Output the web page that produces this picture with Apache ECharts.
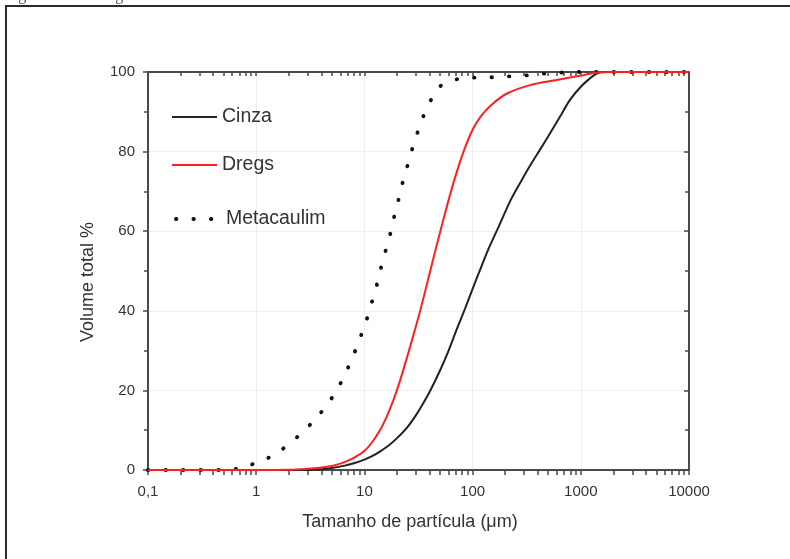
<!DOCTYPE html>
<html>
<head>
<meta charset="utf-8">
<script src="https://cdn.jsdelivr.net/npm/echarts@6/dist/echarts.min.js"></script>
<style>
html,body{margin:0;padding:0;background:#fff;}
#c{width:790px;height:559px;}
</style>
</head>
<body>
<div id="c"></div>
<script>
// ---- data ----
const seriesNames = ['Cinza', 'Dregs', 'Metacaulim'];

const cinzaX = [0.1, 1, 3, 4, 5, 6.6, 8, 10, 12, 14, 17, 20, 25, 30, 35, 40, 50, 60, 71, 85, 100, 120, 140, 170, 222, 280, 340, 420, 520, 650, 794, 1000, 1216, 1450, 1700, 10000];
const cinzaY = [0, 0, 0, 0.2, 0.5, 1.1, 1.7, 2.6, 3.6, 4.7, 6.3, 8.0, 10.8, 13.8, 16.8, 19.6, 25, 30, 35.2, 40.5, 45.5, 51, 55.5, 60.5, 67.5, 72.5, 76.5, 80.5, 84.6, 89, 93, 96.3, 98.4, 99.8, 100, 100];

const dregsX = [0.1, 1, 2, 3, 4, 5, 6, 7.4, 8.5, 10, 11.5, 13.8, 16, 18.5, 21.2, 25.7, 32.4, 38.5, 46.6, 55, 65, 80, 100, 120, 150, 208, 340, 600, 1050, 1400, 2000, 10000];
const dregsY = [0, 0, 0.05, 0.3, 0.6, 1.0, 1.6, 2.6, 3.5, 4.8, 6.6, 9.8, 13.3, 17.5, 22.2, 29.8, 39.5, 47.5, 56.5, 64, 71.2, 79, 85.5, 89, 91.8, 94.6, 96.7, 98, 99.2, 99.9, 100, 100];

const metaX = [0.1, 0.5, 0.7, 0.82, 1.18, 1.68, 2.42, 3.42, 4.58, 5.78, 6.9, 8.07, 9.25, 10.5, 11.7, 13, 14.2, 15.6, 17.3, 18.8, 20.6, 22.4, 24.8, 27.5, 30.8, 35, 41.3, 48, 54.8, 78, 109, 158, 224, 327, 468, 700, 1000, 10000];
const metaY = [0, 0, 0.4, 1.0, 2.5, 4.9, 8.4, 12.4, 16.6, 20.9, 25.1, 29.4, 33.6, 37.8, 42.1, 46.4, 50.7, 54.8, 59.2, 63.5, 67.7, 71.9, 76.1, 80.4, 84.6, 88.8, 93, 95.8, 97.2, 98.4, 98.6, 98.7, 98.9, 99.2, 99.6, 99.9, 100, 100];

const xMajorTicks = [0.1, 1, 10, 100, 1000, 10000];
const xTickLabels = ['0,1', '1', '10', '100', '1000', '10000'];
const xMinorMultipliers = [2, 3, 4, 5, 6, 7, 8, 9];

const xTitle = 'Tamanho de partícula (μm)';
const yTitle = 'Volume total %';
const captionText = 'Figura 4 - Curva granulométrica dos materiais estudados';

// ---- build ----
function pairs(xs, ys) { return xs.map((x, i) => [x, ys[i]]); }
const allXTicks = [];
xMajorTicks.forEach((m, i) => {
  allXTicks.push(m);
  if (i < xMajorTicks.length - 1) xMinorMultipliers.forEach(k => allXTicks.push(+(m * k).toPrecision(6)));
});

const FONT = '"Liberation Sans", Arial, sans-serif';
const AX = '#4a4a4a';
const TXT = '#333';
const C_CINZA = '#222';
const C_DREGS = '#ff1f1f';
const C_META = '#111';
const metaDash = [0.5, 17];

const chart = echarts.init(document.getElementById('c'), null, {renderer: 'canvas'});

const baseX = {
  type: 'log', logBase: 10, min: 0.1, max: 10000,
  axisLine: {show: true, onZero: false, lineStyle: {color: AX, width: 2}},
  splitLine: {show: false},
  minorTick: {show: false}
};

const legendBase = {
  itemWidth: 45, itemHeight: 14, orient: 'vertical', selectedMode: false,
  itemStyle: {opacity: 0, borderWidth: 0},
  textStyle: {fontFamily: FONT, fontSize: 19.5, color: TXT, lineHeight: 22}
};

chart.setOption({
  animation: false,
  backgroundColor: '#fff',
  grid: {left: 148, right: 101, top: 72, bottom: 89, containLabel: false},
  graphic: [
    {type: 'rect', shape: {x: 6, y: 6, width: 820, height: 600}, style: {fill: 'none', stroke: '#2a2a2a', lineWidth: 2}, z: 100},
    {type: 'text', left: 5, top: -12, style: {text: captionText, font: '16px "Liberation Serif", serif', fill: '#555'}, z: 100}
  ],
  xAxis: [
    Object.assign({}, baseX, {
      position: 'bottom',
      name: xTitle, nameLocation: 'middle', nameGap: 43,
      nameTextStyle: {fontFamily: FONT, fontSize: 18, color: TXT, padding: [0, 17, 0, 0]},
      axisTick: {show: true, inside: false, length: 5, customValues: allXTicks, lineStyle: {color: AX, width: 1.5}},
      axisLabel: {show: true, margin: 14, fontFamily: FONT, fontSize: 15, color: TXT,
        customValues: xMajorTicks,
        formatter: v => { const i = xMajorTicks.findIndex(m => Math.abs(Math.log10(m) - Math.log10(v)) < 1e-6); return i >= 0 ? xTickLabels[i] : ''; }}
    }),
    Object.assign({}, baseX, {
      position: 'top',
      axisTick: {show: true, inside: true, length: 4, customValues: allXTicks, lineStyle: {color: AX, width: 1.5}},
      axisLabel: {show: false}
    }),
    Object.assign({}, baseX, {
      position: 'bottom', splitNumber: 5,
      axisLine: {show: false}, axisTick: {show: false}, axisLabel: {show: false},
      splitLine: {show: true, lineStyle: {color: '#efefef', width: 1}}
    })
  ],
  yAxis: [
    {
      type: 'value', min: 0, max: 100, interval: 20, position: 'left',
      name: yTitle, nameLocation: 'middle', nameGap: 51,
      nameTextStyle: {fontFamily: FONT, fontSize: 18, color: TXT, padding: [0, 22, 0, 0]},
      axisLine: {show: true, onZero: false, lineStyle: {color: AX, width: 2}},
      axisTick: {show: true, inside: false, length: 5, lineStyle: {color: AX, width: 1.5}},
      minorTick: {show: true, splitNumber: 2, length: 4, lineStyle: {color: AX, width: 1.5}},
      axisLabel: {margin: 13, fontFamily: FONT, fontSize: 15, color: TXT},
      splitLine: {show: true, lineStyle: {color: '#efefef', width: 1}}
    },
    {
      type: 'value', min: 0, max: 100, interval: 20, position: 'right',
      axisLine: {show: true, onZero: false, lineStyle: {color: AX, width: 2}},
      axisTick: {show: true, inside: true, length: 5, lineStyle: {color: AX, width: 1.5}},
      minorTick: {show: true, splitNumber: 2, length: 4, lineStyle: {color: AX, width: 1.5}},
      axisLabel: {show: false},
      splitLine: {show: false}
    }
  ],
  legend: [
    Object.assign({}, legendBase, {data: [seriesNames[0]], left: 166, top: 101}),
    Object.assign({}, legendBase, {data: [seriesNames[1]], left: 166, top: 149}),
    Object.assign({}, legendBase, {data: [seriesNames[2]], left: 169, top: 203,
      lineStyle: {width: 3.8, type: metaDash, cap: 'round', color: C_META}})
  ],
  series: [
    {name: seriesNames[0], type: 'line', data: pairs(cinzaX, cinzaY), smooth: 0.3,
      symbol: 'none', lineStyle: {color: C_CINZA, width: 2}, itemStyle: {color: C_CINZA}, z: 3},
    {name: seriesNames[1], type: 'line', data: pairs(dregsX, dregsY), smooth: 0.3,
      symbol: 'none', lineStyle: {color: C_DREGS, width: 2}, itemStyle: {color: C_DREGS}, z: 4},
    {name: seriesNames[2], type: 'line', data: pairs(metaX, metaY), smooth: 0.3,
      symbol: 'none', lineStyle: {color: C_META, width: 3.8, type: metaDash, cap: 'round'}, itemStyle: {color: C_META}, z: 2}
  ]
});
</script>
</body>
</html>
